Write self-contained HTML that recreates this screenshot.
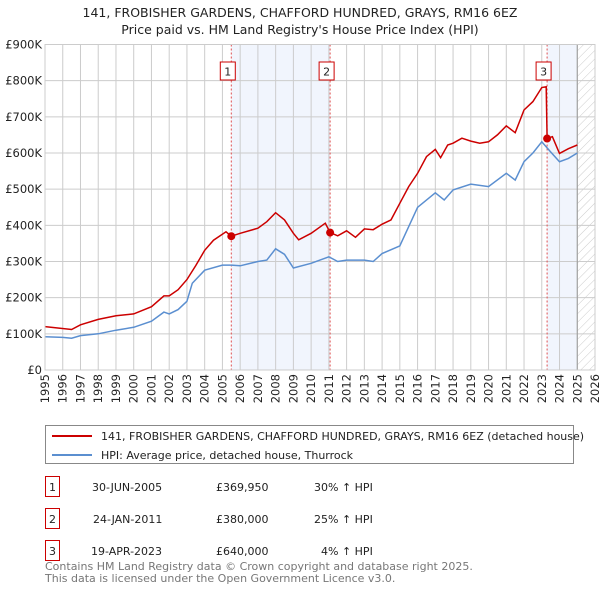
<!DOCTYPE html>
<html><head><meta charset="utf-8"><style>
body{margin:0;background:#fff;font-family:"Liberation Sans","DejaVu Sans",sans-serif;}
svg text{font-family:"DejaVu Sans","Liberation Sans",sans-serif;}
</style></head><body>
<svg id="chart" width="600" height="590" xmlns="http://www.w3.org/2000/svg">
<defs><pattern id="hatch" width="6" height="6" patternUnits="userSpaceOnUse" patternTransform="rotate(45)"><line x1="0" y1="0" x2="0" y2="6" stroke="#ccc" stroke-width="1"/></pattern></defs>
<text x="300" y="17" text-anchor="middle" font-size="12.5" fill="#222">141, FROBISHER GARDENS, CHAFFORD HUNDRED, GRAYS, RM16 6EZ</text>
<text x="300" y="34" text-anchor="middle" font-size="12.5" fill="#222">Price paid vs. HM Land Registry's House Price Index (HPI)</text>
<g id="plot"></g>
<g>
<rect x="45.5" y="425.5" width="528" height="38" fill="#fff" stroke="#888"/>
<line x1="52" y1="436" x2="92" y2="436" stroke="#cc0000" stroke-width="2"/>
<text x="101" y="440" font-size="11" fill="#222">141, FROBISHER GARDENS, CHAFFORD HUNDRED, GRAYS, RM16 6EZ (detached house)</text>
<line x1="52" y1="455" x2="92" y2="455" stroke="#5b8fd0" stroke-width="2"/>
<text x="101" y="459" font-size="11" fill="#222">HPI: Average price, detached house, Thurrock</text>
</g>
<g font-size="11" fill="#222">
<rect x="45.5" y="476.5" width="14" height="20" fill="#fff" stroke="#cc0000"/><text x="52.5" y="491" text-anchor="middle">1</text>
<text x="92" y="491">30-JUN-2005</text><text x="216" y="491">£369,950</text><text x="314" y="491">30% ↑ HPI</text>
<rect x="45.5" y="508.5" width="14" height="20" fill="#fff" stroke="#cc0000"/><text x="52.5" y="523" text-anchor="middle">2</text>
<text x="93" y="523">24-JAN-2011</text><text x="216" y="523">£380,000</text><text x="314" y="523">25% ↑ HPI</text>
<rect x="45.5" y="540.5" width="14" height="20" fill="#fff" stroke="#cc0000"/><text x="52.5" y="555" text-anchor="middle">3</text>
<text x="91" y="555">19-APR-2023</text><text x="216" y="555">£640,000</text><text x="321" y="555">4% ↑ HPI</text>
</g>
<text x="45" y="570" font-size="11" fill="#777">Contains HM Land Registry data © Crown copyright and database right 2025.</text>
<text x="45" y="582" font-size="11" fill="#777">This data is licensed under the Open Government Licence v3.0.</text>
</svg>
<script>
const yTicks=[0,100,200,300,400,500,600,700,800,900];
const yTickLabels=["£0","£100K","£200K","£300K","£400K","£500K","£600K","£700K","£800K","£900K"];
const xYears=[1995,1996,1997,1998,1999,2000,2001,2002,2003,2004,2005,2006,2007,2008,2009,2010,2011,2012,2013,2014,2015,2016,2017,2018,2019,2020,2021,2022,2023,2024,2025,2026];
const hpiT=[1995,1996,1996.5,1997,1998,1999,2000,2001,2001.7,2002,2002.5,2003,2003.3,2004,2005,2005.5,2006,2007,2007.5,2008,2008.5,2009,2010,2011,2011.5,2012,2013,2013.5,2014,2015,2016,2017,2017.5,2018,2019,2020,2021,2021.5,2022,2022.5,2023,2023.5,2024,2024.5,2025];
const hpiV=[92,90,88,95,100,110,118,135,160,155,167,190,240,276,290,290,288,300,304,335,320,282,295,313,300,304,304,300,322,343,450,490,470,498,514,507,544,525,576,600,631,603,576,585,600];
const priceT=[1995,1996.5,1997,1998,1999,2000,2001,2001.7,2002,2002.5,2003,2003.5,2004,2004.5,2005.2,2005.5,2006,2007,2007.5,2008,2008.5,2009,2009.3,2010,2010.8,2011.07,2011.5,2012,2012.5,2013,2013.5,2014,2014.5,2015,2015.5,2016,2016.5,2017,2017.3,2017.7,2018,2018.5,2019,2019.5,2020,2020.5,2021,2021.5,2022,2022.5,2023,2023.25,2023.3,2023.6,2024,2024.5,2025];
const priceV=[120,112,125,140,150,155,175,205,205,222,250,289,331,359,382,370,378,392,410,435,415,378,360,378,406,380,371,385,367,390,388,403,415,461,507,544,590,610,587,622,627,641,633,627,631,650,675,656,719,742,781,783,640,645,599,612,622];
const saleT=[2005.5,2011.07,2023.3];
const saleV=[369.95,380,640];
const saleLabels=["1","2","3"];
const X0=45,X1=595,Y0=370,Y1=44.5;
const x=t=>X0+(t-1995)/(2026-1995)*(X1-X0);
const y=v=>Y0-v/900*(Y0-Y1);
const NS="http://www.w3.org/2000/svg";
const plot=document.getElementById('plot');
function mk(tag,attrs,parent){const e=document.createElementNS(NS,tag);for(const k in attrs)e.setAttribute(k,attrs[k]);(parent||plot).appendChild(e);return e;}
let s1=mk('rect',{x:x(saleT[0]),y:Y1,width:x(saleT[1])-x(saleT[0]),height:Y0-Y1,fill:'#eef3fc',opacity:0.8});


let s2=mk('rect',{x:x(saleT[2]),y:Y1,width:x(2025)-x(saleT[2]),height:Y0-Y1,fill:'#eef3fc',opacity:0.8});


let h=mk('rect',{x:x(2025),y:Y1,width:X1-x(2025),height:Y0-Y1,fill:'url(#hatch)'});


xYears.forEach(t=>{mk('line',{x1:x(t),x2:x(t),y1:Y1,y2:Y0,stroke:'#ccc','stroke-width':1});
 const px=x(t)+4;
 const tx=mk('text',{x:px,y:374,'text-anchor':'end','font-size':11.5,fill:'#222',transform:'rotate(-90 '+px+' 374)'});tx.textContent=t;
 
 });
yTicks.forEach((v,i)=>{mk('line',{x1:X0,x2:X1,y1:y(v),y2:y(v),stroke:'#ccc','stroke-width':1});
 const tx=mk('text',{x:X0-3,y:y(v)+4,'text-anchor':'end','font-size':11.5,fill:'#222'});tx.textContent=yTickLabels[i];
 
 });
mk('line',{x1:x(2025),x2:x(2025),y1:Y1,y2:Y0,stroke:'#999','stroke-width':1});
saleT.forEach((t,i)=>{mk('line',{x1:x(t),x2:x(t),y1:Y1,y2:Y0,stroke:'#e05050','stroke-width':1,'stroke-dasharray':'2,2'});
 const b=mk('rect',{x:x(t)-11,y:62,width:15,height:18,fill:'#fff',stroke:'#cc0000'});
 
 
 const tx=mk('text',{x:x(t)-3.5,y:75.5,'text-anchor':'middle','font-size':11,fill:'#222'});tx.textContent=saleLabels[i];});
const path=(T,V)=>T.map((t,i)=>(i?'L':'M')+x(t).toFixed(1)+' '+y(V[i]).toFixed(1)).join(' ');
let hp=mk('path',{d:path(hpiT,hpiV),fill:'none',stroke:'#5b8fd0','stroke-width':1.5});


let pp=mk('path',{d:path(priceT,priceV),fill:'none',stroke:'#cc0000','stroke-width':1.5});


saleT.forEach((t,i)=>{const c=mk('circle',{cx:x(t),cy:y(saleV[i]),r:4,fill:'#cc0000'});
 
 });
mk('rect',{x:X0,y:Y1,width:X1-X0,height:Y0-Y1,fill:'none',stroke:'#ccc'});
</script>
</body></html>
